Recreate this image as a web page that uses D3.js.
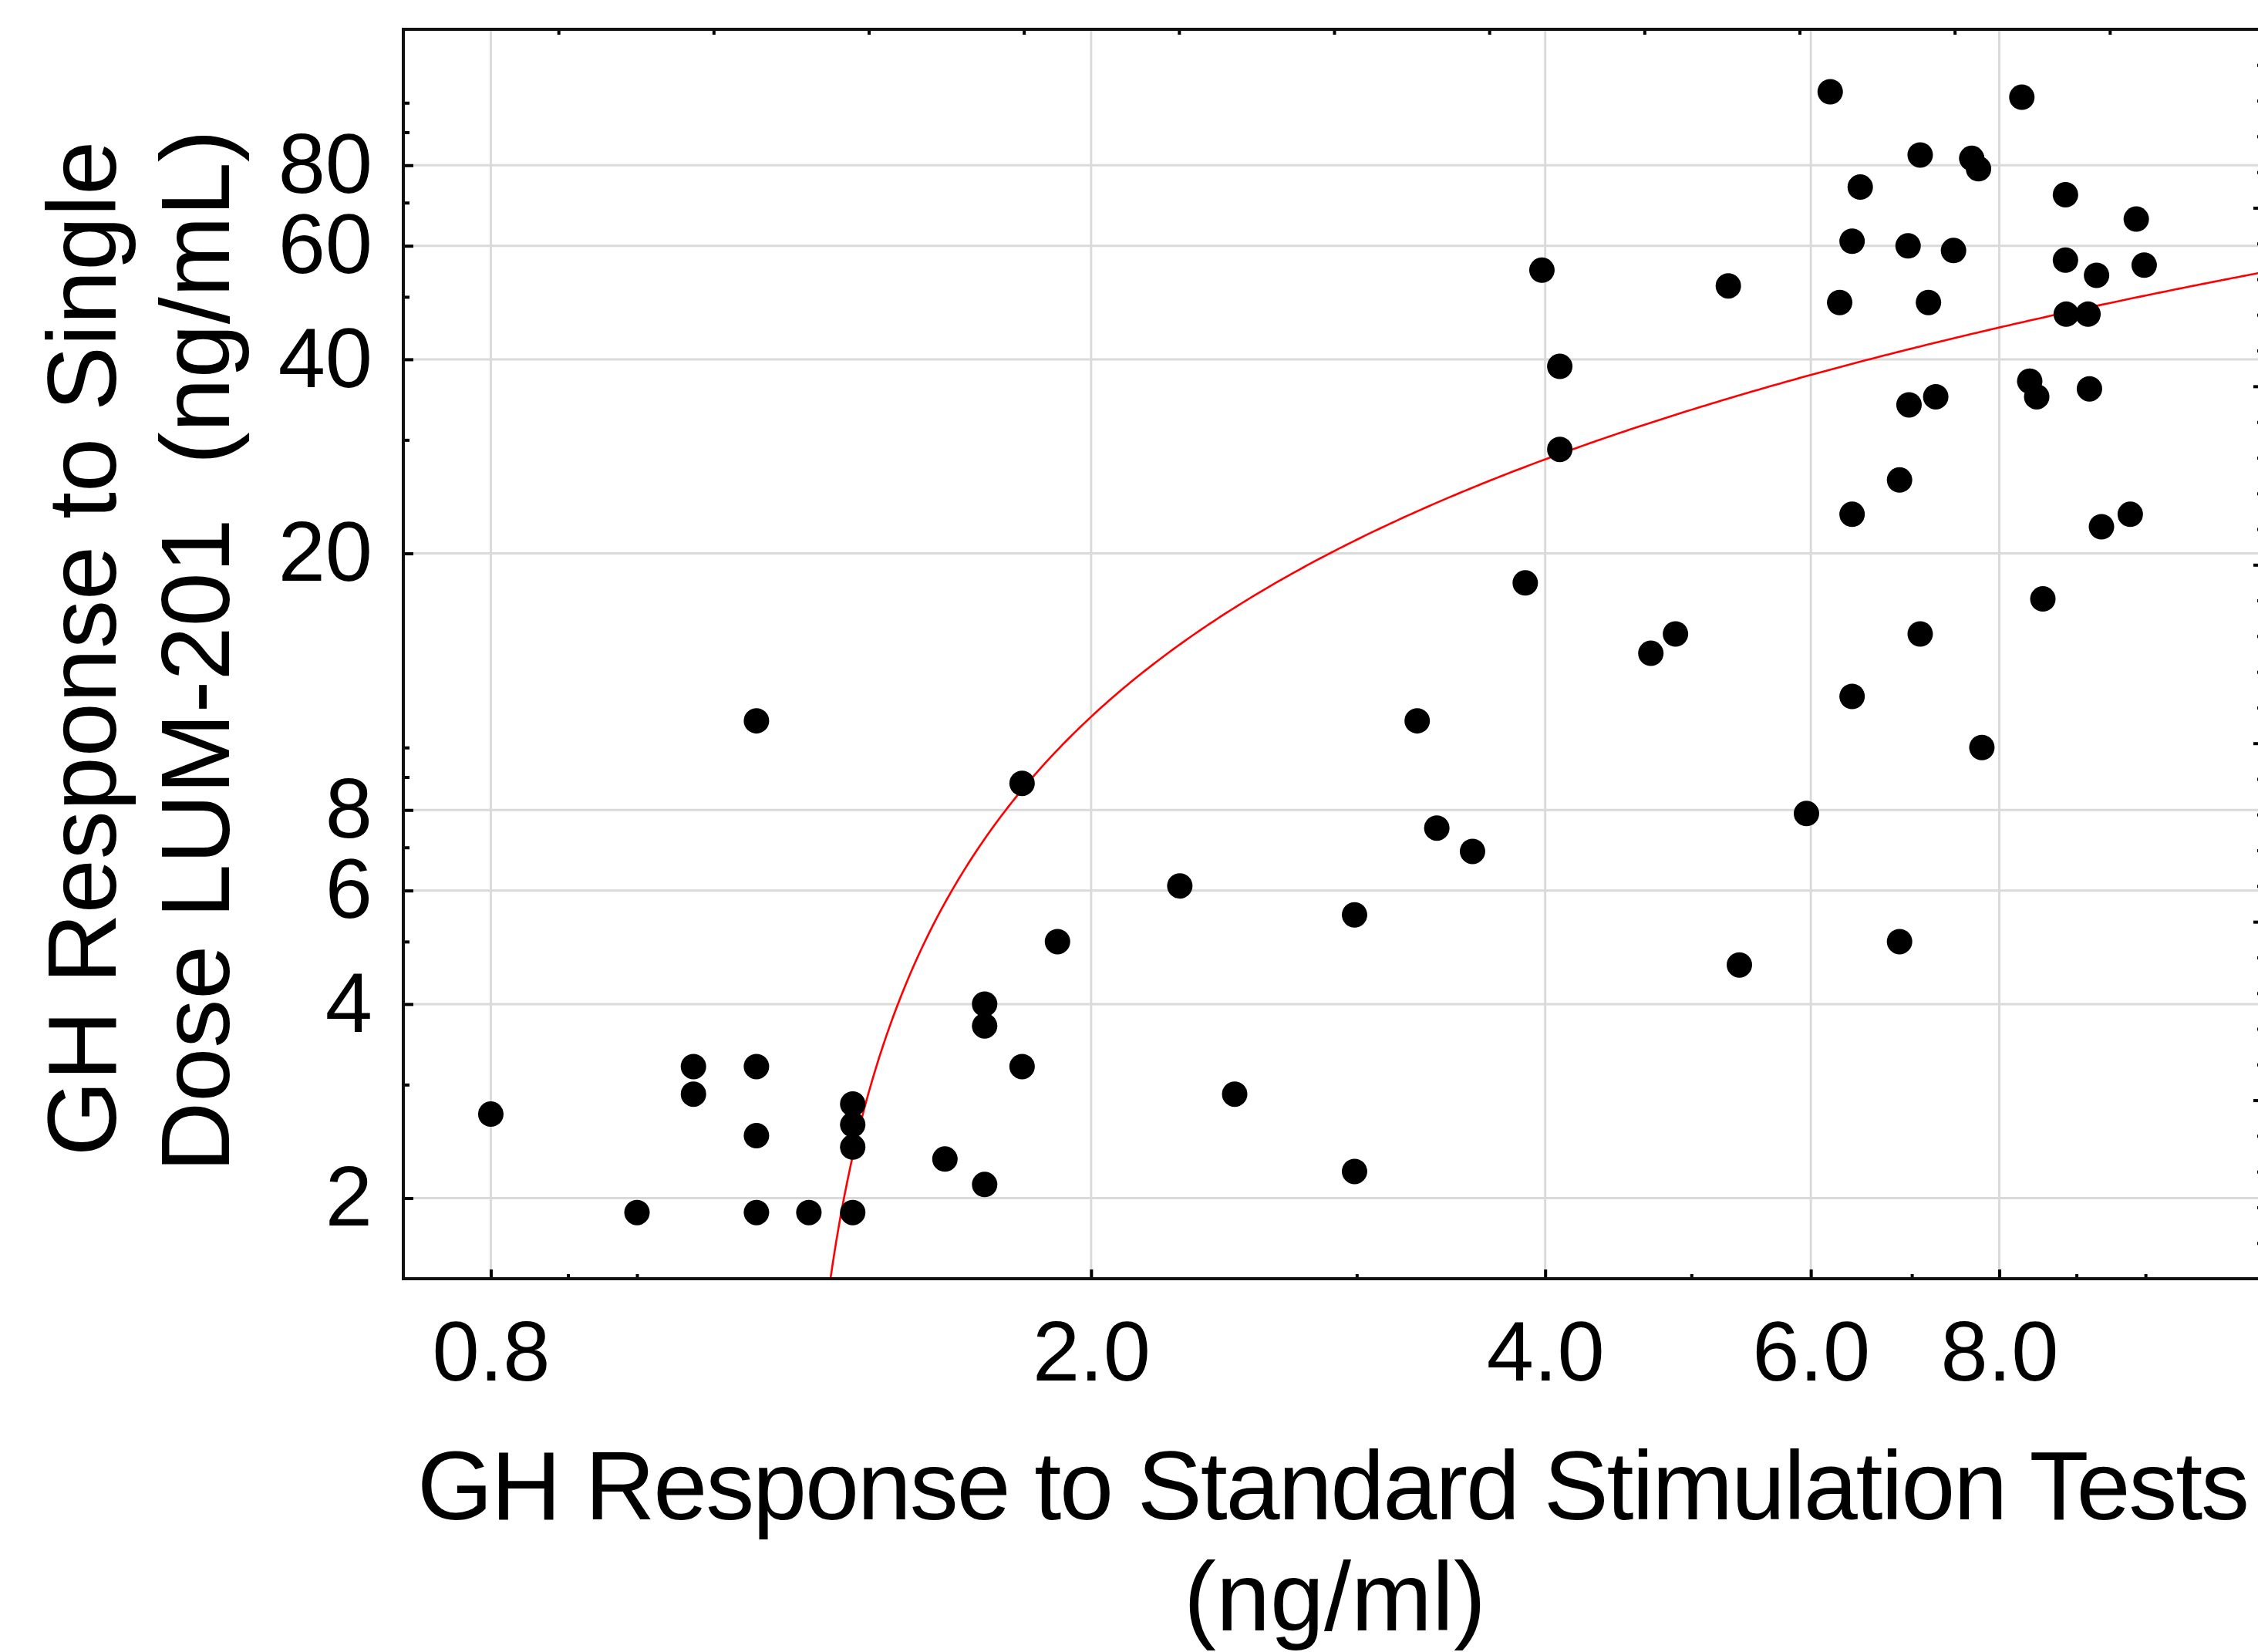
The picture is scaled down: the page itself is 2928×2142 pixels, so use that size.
<!DOCTYPE html>
<html>
<head>
<meta charset="utf-8">
<script src="https://cdn.jsdelivr.net/npm/d3@7"></script>
<style>
  html, body { margin: 0; padding: 0; background: #ffffff; }
  svg { display: block; }
  text { font-family: "Liberation Sans", Arial, sans-serif; fill: #000; }
</style>
</head>
<body>
<svg id="chart" width="2928" height="2142"></svg>
<script>
// ---------------- data ----------------
const stimGH = [
  0.80, 1.00, 1.09, 1.09, 1.20, 1.20, 1.20, 1.20, 1.30, 1.39, 1.39, 1.39, 1.39,
  1.60, 1.70, 1.70, 1.70, 1.80, 1.80, 1.90, 2.29, 2.49, 2.99, 2.99, 3.29, 3.39,
  3.58, 4.70, 4.88, 5.38, 5.96, 6.39, 6.87, 7.09, 7.79,
  6.18, 8.28, 7.09, 7.67, 7.75, 6.47, 8.85, 9.86, 6.39, 6.96, 7.46, 8.85, 9.98,
  9.28, 3.98, 5.29, 6.27, 7.18, 8.86, 9.16, 4.09, 4.09, 8.38, 8.47, 9.18, 7.26,
  6.97, 6.87, 6.39, 9.77, 9.35, 3.88, 8.55
];
const lumGH = [
  2.7, 1.9, 3.2, 2.9, 11.0, 3.2, 2.5, 1.9, 1.9, 2.8, 2.6, 2.4, 1.9,
  2.3, 4.0, 3.7, 2.1, 8.8, 3.2, 5.0, 6.1, 2.9, 5.5, 2.2, 11.0, 7.5,
  6.9, 14.0, 15.0, 4.6, 7.9, 12.0, 5.0, 15.0, 10.0,
  104, 102, 83, 82, 79, 74, 72, 66, 61, 60, 59, 57, 56,
  54, 55, 52, 49, 49, 47, 47, 39, 29, 37, 35, 36, 35,
  34, 26, 23, 23, 22, 18, 17
];
// fitted curve: y = a + b * ln(x)
const fitCoef = [-5.67, 24.28];

const xTickValues = [0.8, 2, 4, 6, 8];
const xTickLabels = ["0.8", "2.0", "4.0", "6.0", "8.0"];
const xMinorTicks = [0.9, 1, 3, 5, 7, 9, 10];
const yTickValues = [2, 4, 6, 8, 20, 40, 60, 80];
const yTickLabels = ["2", "4", "6", "8", "20", "40", "60", "80"];
const yMinorTicks = [3, 5, 7, 9, 10, 30, 50, 70, 90, 100];
const topTicks = [1, 2, 3, 4, 5, 6, 7, 8, 9, 10, 11];
const rightMajorTicks = [1, 2, 3, 4, 5, 6];
const rightMinorTicks = [0.2,0.4,0.6,0.8,1.2,1.4,1.6,1.8,2.2,2.4,2.6,2.8,3.2,3.4,3.6,3.8,
                         4.2,4.4,4.6,4.8,5.2,5.4,5.6,5.8,6.2,6.4,6.6,6.8];

const xTitle = ["GH Response to Standard Stimulation Tests", "(ng/ml)"];
const yTitle = ["GH Response to Single", "Dose LUM-201  (ng/mL)"];

// ---------------- layout ----------------
const L = 523, R = 2937, T = 38, B = 1658;
const svg = d3.select("#chart");

const x = d3.scaleLog().domain([0.7, 12]).range([L, R]);
const y = d3.scaleLog().domain([1.5, 130]).range([B, T]);
const xTop = d3.scaleLinear().domain([0, 12]).range([L, R]);
const yRight = d3.scaleLinear().domain([0, 7]).range([B, T]);

svg.append("defs").append("clipPath").attr("id", "plotClip")
  .append("rect").attr("x", L).attr("y", T).attr("width", R - L).attr("height", B - T);

// grid
const grid = svg.append("g");
grid.selectAll(".gx").data(xTickValues).join("line")
  .attr("x1", d => x(d)).attr("x2", d => x(d)).attr("y1", T).attr("y2", B)
  .attr("stroke", "#dadada").attr("stroke-width", 3);
grid.selectAll(".gy").data(yTickValues).join("line")
  .attr("x1", L).attr("x2", R).attr("y1", d => y(d)).attr("y2", d => y(d))
  .attr("stroke", "#dadada").attr("stroke-width", 3);

// fitted curve
const xStart = Math.exp((1.45 - fitCoef[0]) / fitCoef[1]);
const curveX = d3.range(0, 401).map(i => xStart * Math.pow(12 / xStart, i / 400));
const fitLine = d3.line().x(d => x(d)).y(d => y(fitCoef[0] + fitCoef[1] * Math.log(d)));
svg.append("path").datum(curveX)
  .attr("clip-path", "url(#plotClip)")
  .attr("d", fitLine)
  .attr("fill", "none").attr("stroke", "#ff0000").attr("stroke-width", 2.6);

// points
svg.append("g").attr("clip-path", "url(#plotClip)")
  .selectAll("circle").data(d3.range(stimGH.length)).join("circle")
  .attr("cx", i => x(stimGH[i])).attr("cy", i => y(lumGH[i]))
  .attr("r", 16.5).attr("fill", "#000");

// axes
function styleAxis(g) {
  g.select(".domain").remove();
  g.selectAll(".tick line").attr("stroke", "#000").attr("stroke-width", 4);
  g.selectAll(".tick text").style("font-size", "110px")
    .style("font-family", '"Liberation Sans", Arial, sans-serif').attr("fill", "#000");
}

svg.append("g").attr("transform", `translate(0,${B})`)
  .call(d3.axisBottom(x).tickValues(xTickValues)
    .tickFormat((d, i) => xTickLabels[i]).tickSize(-12).tickPadding(54))
  .call(styleAxis);
svg.append("g").attr("transform", `translate(0,${B})`)
  .call(d3.axisBottom(x).tickValues(xMinorTicks).tickFormat("").tickSize(-6))
  .call(styleAxis);

svg.append("g").attr("transform", `translate(${L},0)`)
  .call(d3.axisLeft(y).tickValues(yTickValues)
    .tickFormat((d, i) => yTickLabels[i]).tickSize(-13).tickPadding(40))
  .call(styleAxis);
svg.append("g").attr("transform", `translate(${L},0)`)
  .call(d3.axisLeft(y).tickValues(yMinorTicks).tickFormat("").tickSize(-8))
  .call(styleAxis);

svg.append("g").attr("transform", `translate(0,${T})`)
  .call(d3.axisTop(xTop).tickValues(topTicks).tickFormat("").tickSize(-7))
  .call(styleAxis);
svg.append("g").attr("transform", `translate(${R},0)`)
  .call(d3.axisRight(yRight).tickValues(rightMajorTicks).tickFormat("").tickSize(-15))
  .call(styleAxis);
svg.append("g").attr("transform", `translate(${R},0)`)
  .call(d3.axisRight(yRight).tickValues(rightMinorTicks).tickFormat("").tickSize(-10))
  .call(styleAxis);

// frame
svg.append("rect").attr("x", L).attr("y", T).attr("width", R - L).attr("height", B - T)
  .attr("fill", "none").attr("stroke", "#111").attr("stroke-width", 4);

// titles
const cx = (L + R) / 2;
svg.append("text").attr("x", 1729).attr("y", 1970).attr("text-anchor", "middle")
  .attr("textLength", 2376).attr("lengthAdjust", "spacing")
  .style("font-size", "126px").text(xTitle[0]);
svg.append("text").attr("x", 1731).attr("y", 2114).attr("text-anchor", "middle")
  .style("font-size", "126px").text(xTitle[1]);

svg.append("text").attr("transform", "translate(150,841) rotate(-90)")
  .attr("text-anchor", "middle").style("font-size", "126px").text(yTitle[0]);
svg.append("text").attr("transform", "translate(297,844) rotate(-90)")
  .attr("text-anchor", "middle").style("font-size", "126px")
  .style("white-space", "pre").text(yTitle[1]);
</script>
</body>
</html>
